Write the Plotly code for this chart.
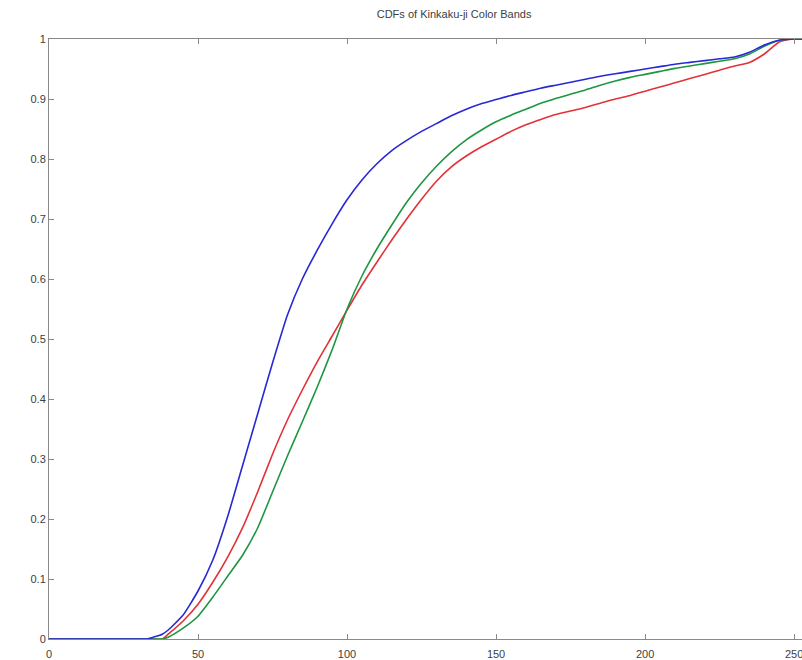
import plotly.graph_objects as go

# Intensity levels (x) at which the CDFs were read
x_vals = [0, 30, 33, 35, 38, 40, 45, 50, 55, 60, 65, 70, 75, 80, 85, 90, 95, 100,
          105, 110, 115, 120, 125, 130, 135, 140, 145, 150, 155, 160, 165, 170,
          175, 180, 185, 190, 195, 200, 205, 210, 215, 220, 225, 230, 235, 240,
          245, 250, 255]

cdf_red = [0, 0, 0, 0, 0, 0.008, 0.03, 0.058, 0.095, 0.137, 0.186, 0.245, 0.308,
           0.365, 0.415, 0.462, 0.505, 0.548, 0.59, 0.628, 0.665, 0.70, 0.733,
           0.763, 0.787, 0.805, 0.82, 0.833, 0.846, 0.857, 0.866, 0.874, 0.88,
           0.886, 0.893, 0.90, 0.906, 0.913, 0.92, 0.927, 0.934, 0.941, 0.948,
           0.955, 0.961, 0.975, 0.995, 1.0, 1.0]

cdf_green = [0, 0, 0, 0, 0, 0.003, 0.018, 0.038, 0.07, 0.105, 0.14, 0.185, 0.245,
             0.305, 0.362, 0.42, 0.482, 0.55, 0.605, 0.65, 0.69, 0.728, 0.76,
             0.788, 0.812, 0.832, 0.848, 0.862, 0.873, 0.883, 0.893, 0.901,
             0.908, 0.915, 0.923, 0.93, 0.936, 0.941, 0.946, 0.951, 0.955,
             0.959, 0.963, 0.967, 0.975, 0.988, 0.998, 1.0, 1.0]

cdf_blue = [0, 0, 0, 0.003, 0.008, 0.015, 0.04, 0.08, 0.132, 0.205, 0.29, 0.375,
            0.46, 0.54, 0.60, 0.648, 0.692, 0.732, 0.765, 0.792, 0.814, 0.831,
            0.846, 0.859, 0.872, 0.883, 0.892, 0.899, 0.906, 0.912, 0.918, 0.923,
            0.928, 0.933, 0.938, 0.942, 0.946, 0.95, 0.954, 0.958, 0.961, 0.964,
            0.967, 0.97, 0.978, 0.99, 0.998, 1.0, 1.0]

x_ticks = [0, 50, 100, 150, 200, 250]
y_ticks = [0, 0.1, 0.2, 0.3, 0.4, 0.5, 0.6, 0.7, 0.8, 0.9, 1]

series = [
    ("Red", cdf_red, "rgb(225,50,55)"),
    ("Green", cdf_green, "rgb(30,150,65)"),
    ("Blue", cdf_blue, "rgb(40,40,215)"),
]

fig = go.Figure()
for name, ys, col in series:
    fig.add_trace(go.Scatter(x=x_vals, y=ys, mode="lines", name=name,
                             line=dict(color=col, width=1.6, shape="spline",
                                       smoothing=0.5)))

axis_common = dict(
    showgrid=False, zeroline=False, showline=True, linecolor="#8a8a8a",
    linewidth=1, mirror="ticks", ticks="inside", ticklen=5, tickcolor="#8a8a8a",
    automargin=False,
    tickfont=dict(family="Liberation Sans, Arial, sans-serif", size=11,
                  color="#404040"),
)

fig.update_layout(
    width=812, height=660,
    margin=dict(l=49, r=3, t=39, b=21),
    paper_bgcolor="white", plot_bgcolor="white",
    showlegend=False,
    title=dict(text="CDFs of Kinkaku-ji Color Bands",
               font=dict(family="Liberation Sans, Arial, sans-serif", size=11,
                         color="#404040"),
               x=0.533, xanchor="center", y=1 - 14 / 660, yanchor="middle",
               yref="container", xref="paper"),
    xaxis=dict(range=[0, 255], tickvals=x_ticks, ticklabelstandoff=5,
               **axis_common),
    yaxis=dict(range=[0, 1], tickvals=y_ticks, **axis_common),
)

fig.write_html(
    "out.html",
    post_script="document.body.style.margin='0';document.body.style.overflow='hidden';"
                "document.documentElement.style.overflow='hidden';",
)
